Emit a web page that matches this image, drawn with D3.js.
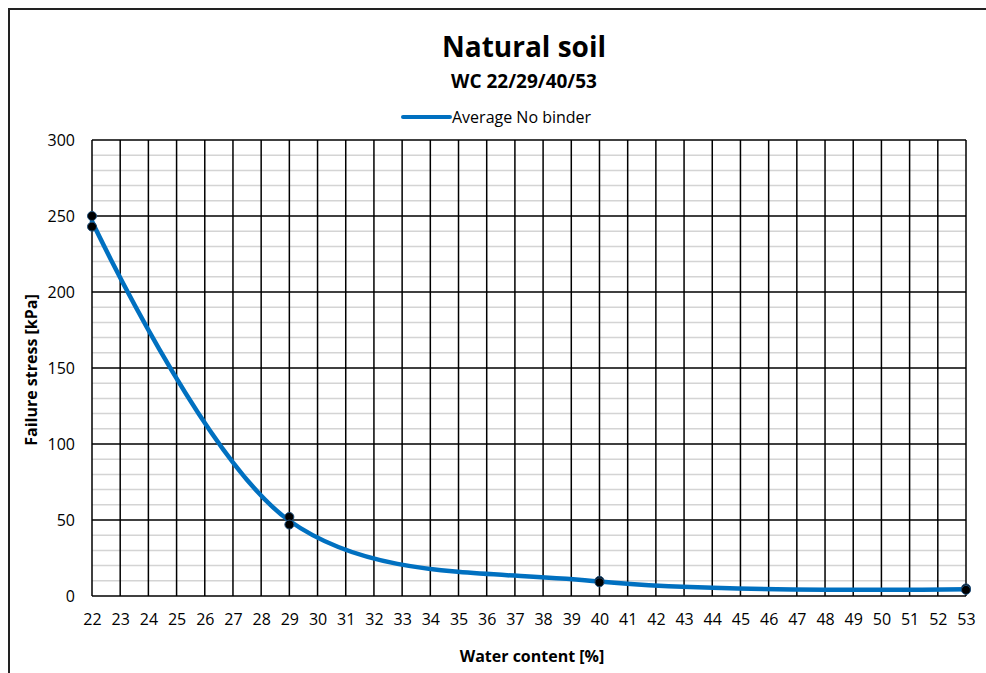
<!DOCTYPE html>
<html>
<head>
<meta charset="utf-8">
<script src="https://cdn.jsdelivr.net/npm/d3@7"></script>
<style>
  body { margin: 0; background: #fff; }
  text { font-family: "Open Sans", "Noto Sans", sans-serif; fill: #000; }
</style>
</head>
<body>
<svg id="chart" width="986" height="673"></svg>
<script>
// measured points (two specimens per water content)
var pointWc = [22, 22, 29, 29, 40, 40, 53, 53];
var pointStress = [250, 243, 52, 47, 10, 9, 5, 4];

// average curve
var avgWc = [22, 29, 40, 53];
var avgStress = [246.5, 49.5, 9.5, 4.5];

var xTicks = d3.range(22, 54);
var yTicks = [0, 50, 100, 150, 200, 250, 300];
var yMinor = d3.range(0, 301, 10);

var svg = d3.select("#chart");
var margin = {top: 140, right: 20, bottom: 77, left: 92};
var width = 966 - margin.left;
var height = 596 - margin.top;

// outer chart border
svg.append("path")
    .attr("d", "M9,673 V9 H986")
    .attr("fill", "none")
    .attr("stroke", "#222")
    .attr("stroke-width", 2);

var g = svg.append("g")
    .attr("transform", "translate(" + margin.left + "," + margin.top + ")");

var xScale = d3.scaleLinear().domain([22, 53]).range([0, width]);
var yScale = d3.scaleLinear().domain([0, 300]).range([height, 0]);

// minor horizontal grid
g.append("g")
    .selectAll("line")
    .data(yMinor.filter(function(d) { return d % 50 !== 0; }))
    .enter().append("line")
    .attr("x1", 0).attr("x2", width)
    .attr("y1", function(d) { return yScale(d); })
    .attr("y2", function(d) { return yScale(d); })
    .attr("stroke", "#d4d4d4")
    .attr("stroke-width", 1.5);

// major grid
g.append("g")
    .selectAll("line")
    .data(yTicks)
    .enter().append("line")
    .attr("x1", 0).attr("x2", width)
    .attr("y1", function(d) { return yScale(d); })
    .attr("y2", function(d) { return yScale(d); })
    .attr("stroke", "#000")
    .attr("stroke-width", 1.5);

g.append("g")
    .selectAll("line")
    .data(xTicks)
    .enter().append("line")
    .attr("x1", function(d) { return xScale(d); })
    .attr("x2", function(d) { return xScale(d); })
    .attr("y1", 0).attr("y2", height)
    .attr("stroke", "#000")
    .attr("stroke-width", 1.5);

// axes (labels only)
var xAxis = g.append("g")
    .attr("transform", "translate(0," + height + ")")
    .call(d3.axisBottom(xScale).tickValues(xTicks).tickSize(0).tickPadding(18).tickFormat(d3.format("d")));
xAxis.select(".domain").remove();
xAxis.selectAll("text").style("font-size", "16px").style("font-family", "\"Open Sans\", sans-serif");

var yAxis = g.append("g")
    .call(d3.axisLeft(yScale).tickValues(yTicks).tickSize(0).tickPadding(17));
yAxis.select(".domain").remove();
yAxis.selectAll("text").style("font-size", "16px").style("font-family", "\"Open Sans\", sans-serif");

// average line
var line = d3.line()
    .x(function(d, i) { return xScale(avgWc[i]); })
    .y(function(d) { return yScale(d); })
    .curve(d3.curveCardinal.tension(0));

g.append("path")
    .datum(avgStress)
    .attr("fill", "none")
    .attr("stroke", "#0070C0")
    .attr("stroke-width", 4.5)
    .attr("stroke-linecap", "round")
    .attr("d", line);

// measured points
g.selectAll(".dot")
    .data(pointStress)
    .enter().append("circle")
    .attr("class", "dot")
    .attr("cx", function(d, i) { return xScale(pointWc[i]); })
    .attr("cy", function(d) { return yScale(d); })
    .attr("r", 4.5)
    .attr("fill", "#000")
    .attr("stroke", "#1f4e79")
    .attr("stroke-width", 1);

// titles
svg.append("text")
    .attr("x", 524).attr("y", 57)
    .attr("text-anchor", "middle")
    .style("font-size", "28px").style("font-weight", "bold")
    .text("Natural soil");

svg.append("text")
    .attr("x", 524).attr("y", 88)
    .attr("text-anchor", "middle")
    .style("font-size", "19px").style("font-weight", "bold")
    .text("WC 22/29/40/53");

// legend
svg.append("line")
    .attr("x1", 403).attr("x2", 450)
    .attr("y1", 117).attr("y2", 117)
    .attr("stroke", "#0070C0")
    .attr("stroke-width", 4)
    .attr("stroke-linecap", "round");

svg.append("text")
    .attr("x", 452).attr("y", 123)
    .style("font-size", "16px")
    .text("Average No binder");

// axis titles
svg.append("text")
    .attr("x", 532).attr("y", 662)
    .attr("text-anchor", "middle")
    .style("font-size", "16px").style("font-weight", "bold")
    .text("Water content [%]");

svg.append("text")
    .attr("transform", "translate(37,370) rotate(-90)")
    .attr("text-anchor", "middle")
    .style("font-size", "16px").style("font-weight", "bold")
    .text("Failure stress [kPa]");
</script>
</body>
</html>
